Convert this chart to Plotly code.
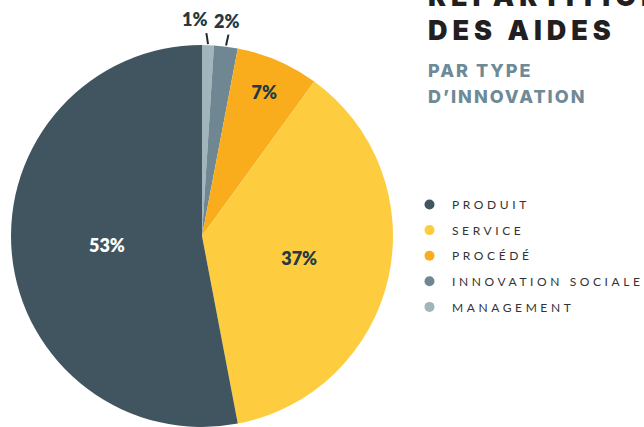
import math
import plotly.graph_objects as go

# data (pie order clockwise from 12 o'clock)
labels = ["MANAGEMENT", "INNOVATION SOCIALE", "PROCÉDÉ", "SERVICE", "PRODUIT"]
values = [1, 2, 7, 37, 53]
colors = ["#a1b5bc", "#6f8792", "#f9ad1c", "#fecd3f", "#415560"]
text_colors = ["#263843", "#263843", "#263843", "#263843", "#ffffff"]
legend_order = ["PRODUIT", "SERVICE", "PROCÉDÉ", "INNOVATION SOCIALE", "MANAGEMENT"]
outside_labels = ["MANAGEMENT", "INNOVATION SOCIALE"]
title_lines = ["RÉPARTITION", "DES AIDES"]
subtitle_lines = ["PAR TYPE", "D’INNOVATION"]

W, H = 644, 427
cx, cy, R = 202, 236, 191  # pie geometry in pixels

fig = go.Figure()
texts = ["" if l in outside_labels else f"{v}%" for l, v in zip(labels, values)]
fig.add_trace(go.Pie(
    labels=labels, values=values, sort=False, direction="clockwise", rotation=0,
    marker=dict(colors=colors, line=dict(width=0)),
    text=texts, textinfo="text", textposition="inside",
    insidetextorientation="horizontal",
    insidetextfont=dict(family="Lato", size=18, color=text_colors, weight=800),
    domain=dict(x=[(cx - R) / W, (cx + R) / W], y=[(H - cy - R) / H, (H - cy + R) / H]),
    showlegend=False, hoverinfo="label+percent",
))

# legend entries as circle markers
for name in legend_order:
    c = colors[labels.index(name)]
    fig.add_trace(go.Scatter(
        x=[None], y=[None], mode="markers",
        name=f'<span style="letter-spacing:3.6px">{name}</span>',
        marker=dict(symbol="circle", size=10, color=c), legendgroup=name,
    ))

# outside labels with leader lines, computed from slice angles
total = sum(values)
cum = 0
shift = {"MANAGEMENT": -11, "INNOVATION SOCIALE": -1}
for l, v in zip(labels, values):
    mid = (cum + v / 2) / total * 2 * math.pi
    cum += v
    if l not in outside_labels:
        continue
    x0 = cx + (R + 1) * math.sin(mid)
    y0 = cy - (R + 1) * math.cos(mid)
    x1 = cx + (R + 12) * math.sin(mid) + (1 if l == "INNOVATION SOCIALE" else -2)
    y1 = cy - (R + 12) * math.cos(mid)
    fig.add_shape(type="line", xref="paper", yref="paper",
                  x0=x0 / W, y0=1 - y0 / H, x1=x1 / W, y1=1 - y1 / H,
                  line=dict(color="#1f2a30", width=2))
    fig.add_annotation(xref="paper", yref="paper", x=(x1 + shift[l]) / W, y=1 - (y1 - 6) / H,
                       text=f"{v}%", showarrow=False, yanchor="middle", xanchor="center",
                       yshift=8,
                       font=dict(family="Lato", size=18, color="#263843", weight=800))

# titles
for txt, ypx in zip(title_lines, [-3.5, 31]):
    fig.add_annotation(xref="paper", yref="paper", x=426 / W, y=1 - ypx / H, xanchor="left", yanchor="middle",
                       text=f'<span style="letter-spacing:5px">{txt}</span>', showarrow=False,
                       font=dict(family="Inter", size=27, color="#231f20", weight=900))
for txt, ypx in zip(subtitle_lines, [71, 96.5]):
    fig.add_annotation(xref="paper", yref="paper", x=426 / W, y=1 - ypx / H, xanchor="left", yanchor="middle",
                       text=f'<span style="letter-spacing:2px">{txt}</span>', showarrow=False,
                       font=dict(family="Inter", size=18, color="#6e8a96", weight=800))

fig.update_layout(
    width=W, height=H, margin=dict(l=0, r=0, t=0, b=0, autoexpand=False),
    paper_bgcolor="white", plot_bgcolor="white",
    xaxis=dict(visible=False), yaxis=dict(visible=False),
    legend=dict(x=407 / W, y=1 - 190 / H, xanchor="left", yanchor="top",
                font=dict(family="Lato", size=12, color="#333333"),
                tracegroupgap=6.6, itemwidth=35, bgcolor="rgba(0,0,0,0)"),
)

fig.write_html("out.html", config={"displayModeBar": False},
               post_script="document.body.style.margin='0';document.body.style.overflow='hidden';")
